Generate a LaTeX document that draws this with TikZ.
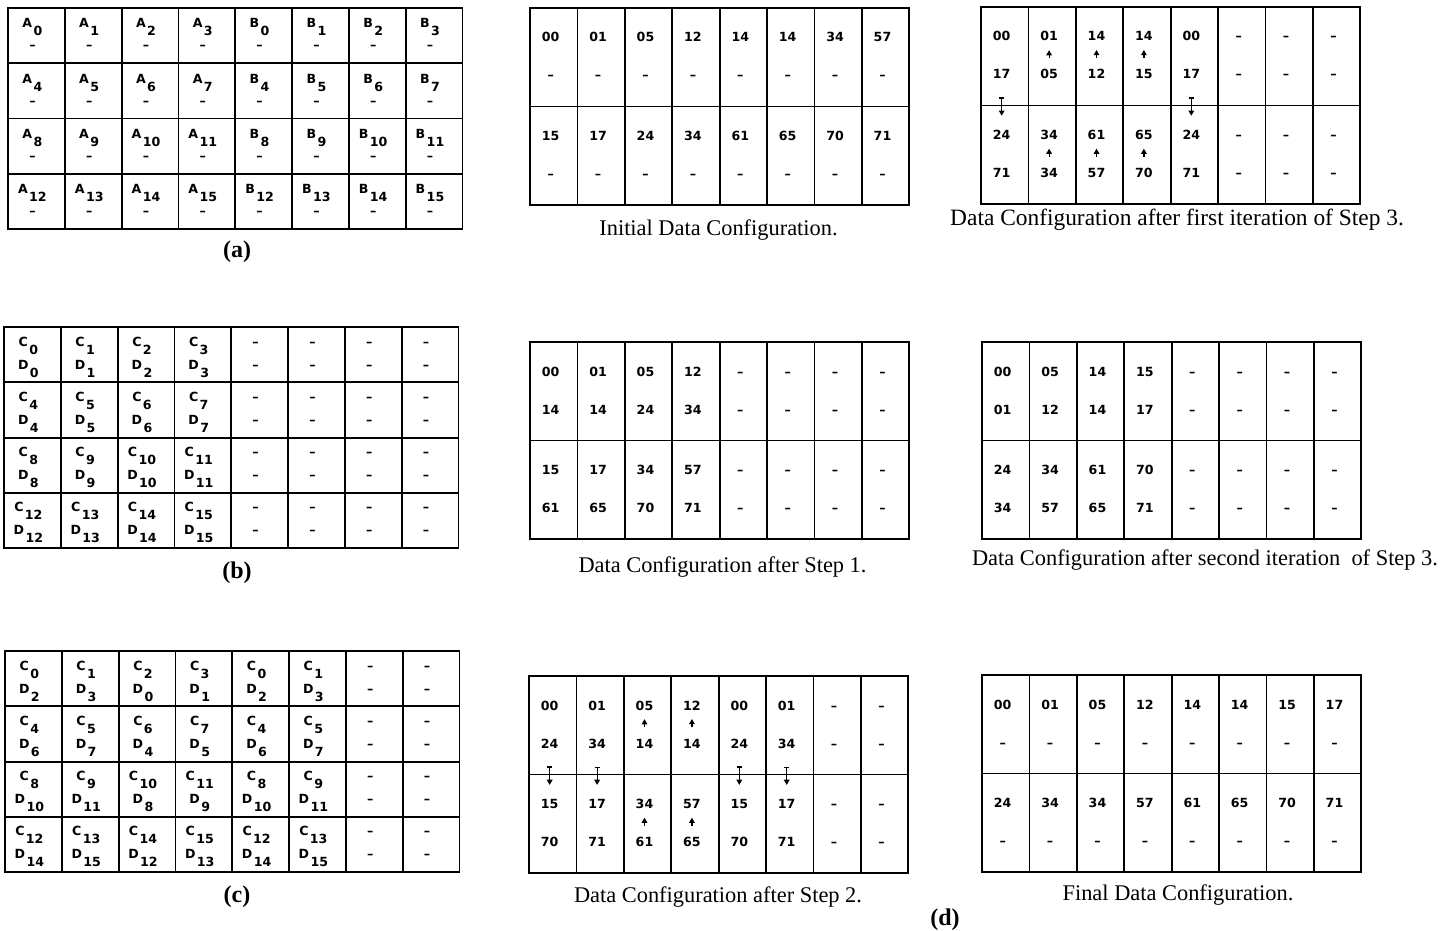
\documentclass[tikz,border=0pt]{standalone}
\usepackage{fontspec}
\setmainfont{Liberation Serif}
\newfontfamily\cellfont{DejaVu Sans}
\usepackage{tikz}
\usetikzlibrary{arrows.meta}
\newcommand{\low}[1]{\hspace{0.7pt}\raisebox{-4pt}{#1}}
\newcommand{\dsh}{–}
\newcommand{\dgrid}[4]{%
  \foreach \va/\vb/\vc/\vd [count=\col] in {#4}{
    \node[dcell] (#1-\col-u) at (#2+47.4*\col-23.7, #3+49.25) {};
    \node[dcell] (#1-\col-d) at (#2+47.4*\col-23.7, #3+147.75) {};
    \node[txt] (#1-\col-1) at ([shift={(-3,-15.25)}]#1-\col-u.center) {\va};
    \node[txt] (#1-\col-2) at ([shift={(-3,22.75)}]#1-\col-u.center) {\vb};
    \node[txt] (#1-\col-3) at ([shift={(-3,-15.25)}]#1-\col-d.center) {\vc};
    \node[txt] (#1-\col-4) at ([shift={(-3,22.75)}]#1-\col-d.center) {\vd};
  }}
\tikzset{
  lcell/.style={draw, line width=0.9pt, inner sep=0pt, minimum width=28.4pt, minimum height=27.65pt},
  dcell/.style={draw, line width=0.9pt, inner sep=0pt, minimum width=23.7pt, minimum height=49.25pt},
  txt/.style={font=\cellfont\bfseries\fontsize{6.3}{7}\selectfont, inner sep=0pt, anchor=base},
  captxt/.style={font=\fontsize{11.2}{13}\selectfont, inner sep=0pt, anchor=base},
  lab/.style={font=\bfseries\fontsize{12}{14}\selectfont, inner sep=0pt, anchor=base},
  uparr/.style={-{Triangle[length=2.6pt,width=2.8pt]}, line width=0.6pt, shorten <=5.5pt, shorten >=4.3pt},
  dnarr/.style={{Bar[width=2.6pt]}-{Triangle[length=2.6pt,width=2.8pt]}, line width=0.6pt, shorten <=9pt, shorten >=7pt},
}

\begin{document}
\begin{tikzpicture}[x=0.5pt, y=-0.5pt]
\fill[white] (0,0) rectangle (1446,931);
\useasboundingbox (0,0) rectangle (1446,931);

\foreach \g/\x/\y in {a/8/8, b/4/327, c/5/651}
  \foreach \row in {0,...,3}
    \foreach \col in {0,...,7}
      \node[lcell] (\g-\row-\col) at (\x+56.8*\col+28.4, \y+55.3*\row+27.65) {};

\foreach \row in {0,...,3}
  \foreach \col in {0,...,7}{
    \pgfmathtruncatemacro\k{4*\row+mod(\col,4)}
    \ifnum\col<4 \def\ltr{A}\else\def\ltr{B}\fi
    \node[txt] (a-\row-\col-1) at ([shift={(-4,-7.65)}]a-\row-\col.center) {\ltr\low{\k}};
    \node[txt] (a-\row-\col-2) at ([shift={(-4,14.35)}]a-\row-\col.center) {\dsh};
  }
\foreach \row in {0,...,3}
  \foreach \col in {0,...,7}{
    \pgfmathtruncatemacro\k{4*\row+\col}
    \ifnum\col<4 \def\ua{C\low{\k}}\def\ub{D\low{\k}}\else\def\ua{\dsh}\def\ub{\dsh}\fi
    \node[txt] (b-\row-\col-1) at ([shift={(-4,-8.65)}]b-\row-\col.center) {\ua};
    \node[txt] (b-\row-\col-2) at ([shift={(-4,14.35)}]b-\row-\col.center) {\ub};
  }
\foreach \row in {0,...,3}
  \foreach \col in {0,...,7}{
    \pgfmathtruncatemacro\k{4*\row+mod(\col,4)}
    \pgfmathtruncatemacro\m{4*\row+mod(\col+2,4)}
    \ifnum\col<6 \def\ua{C\low{\k}}\def\ub{D\low{\m}}\else\def\ua{\dsh}\def\ub{\dsh}\fi
    \node[txt] (c-\row-\col-1) at ([shift={(-4,-8.65)}]c-\row-\col.center) {\ua};
    \node[txt] (c-\row-\col-2) at ([shift={(-4,14.35)}]c-\row-\col.center) {\ub};
  }
\node[lab] (la) at (237,257) {(a)};
\node[lab] (lb) at (237,578) {(b)};
\node[lab] (lc) at (237,902) {(c)};

\dgrid{ini}{530}{8}{00/\dsh/15/\dsh, 01/\dsh/17/\dsh, 05/\dsh/24/\dsh, 12/\dsh/34/\dsh, 14/\dsh/61/\dsh, 14/\dsh/65/\dsh, 34/\dsh/70/\dsh, 57/\dsh/71/\dsh}
\dgrid{st1}{530}{342}{00/14/15/61, 01/14/17/65, 05/24/34/70, 12/34/57/71, \dsh/\dsh/\dsh/\dsh, \dsh/\dsh/\dsh/\dsh, \dsh/\dsh/\dsh/\dsh, \dsh/\dsh/\dsh/\dsh}
\dgrid{st2}{529}{676}{00/24/15/70, 01/34/17/71, 05/14/34/61, 12/14/57/65, 00/24/15/70, 01/34/17/71, \dsh/\dsh/\dsh/\dsh, \dsh/\dsh/\dsh/\dsh}
\dgrid{it1}{981}{7}{00/17/24/71, 01/05/34/34, 14/12/61/57, 14/15/65/70, 00/17/24/71, \dsh/\dsh/\dsh/\dsh, \dsh/\dsh/\dsh/\dsh, \dsh/\dsh/\dsh/\dsh}
\dgrid{it2}{982}{342}{00/01/24/34, 05/12/34/57, 14/14/61/65, 15/17/70/71, \dsh/\dsh/\dsh/\dsh, \dsh/\dsh/\dsh/\dsh, \dsh/\dsh/\dsh/\dsh, \dsh/\dsh/\dsh/\dsh}
\dgrid{fin}{982}{675}{00/\dsh/24/\dsh, 01/\dsh/34/\dsh, 05/\dsh/34/\dsh, 12/\dsh/57/\dsh, 14/\dsh/61/\dsh, 14/\dsh/65/\dsh, 15/\dsh/70/\dsh, 17/\dsh/71/\dsh}

\foreach \col in {2,3,4}{
  \draw[uparr] (it1-\col-2.north) -- (it1-\col-1.south);
  \draw[uparr] (it1-\col-4.north) -- (it1-\col-3.south);
}
\foreach \col in {1,5}
  \draw[dnarr] (it1-\col-2.south) -- (it1-\col-3.north);
\foreach \col in {3,4}{
  \draw[uparr] (st2-\col-2.north) -- (st2-\col-1.south);
  \draw[uparr] (st2-\col-4.north) -- (st2-\col-3.south);
}
\foreach \col in {1,2,5,6}
  \draw[dnarr] (st2-\col-2.south) -- (st2-\col-3.north);

\node[captxt] (cini) at (718.5,235) {Initial Data Configuration.};
\node[captxt] (cst1) at (722.5,572) {Data Configuration after Step 1.};
\node[captxt] (cst2) at (718,902) {Data Configuration after Step 2.};
\node[captxt, font=\fontsize{11.7}{13}\selectfont] (cit1) at (1177,226) {Data Configuration after first iteration of Step 3.};
\node[captxt] (cit2) at (1205,565) {Data Configuration after second iteration\ \ of Step 3.};
\node[captxt] (cfin) at (1178,900) {Final Data Configuration.};
\node[lab] (ld) at (945,925) {(d)};
\end{tikzpicture}
\end{document}
